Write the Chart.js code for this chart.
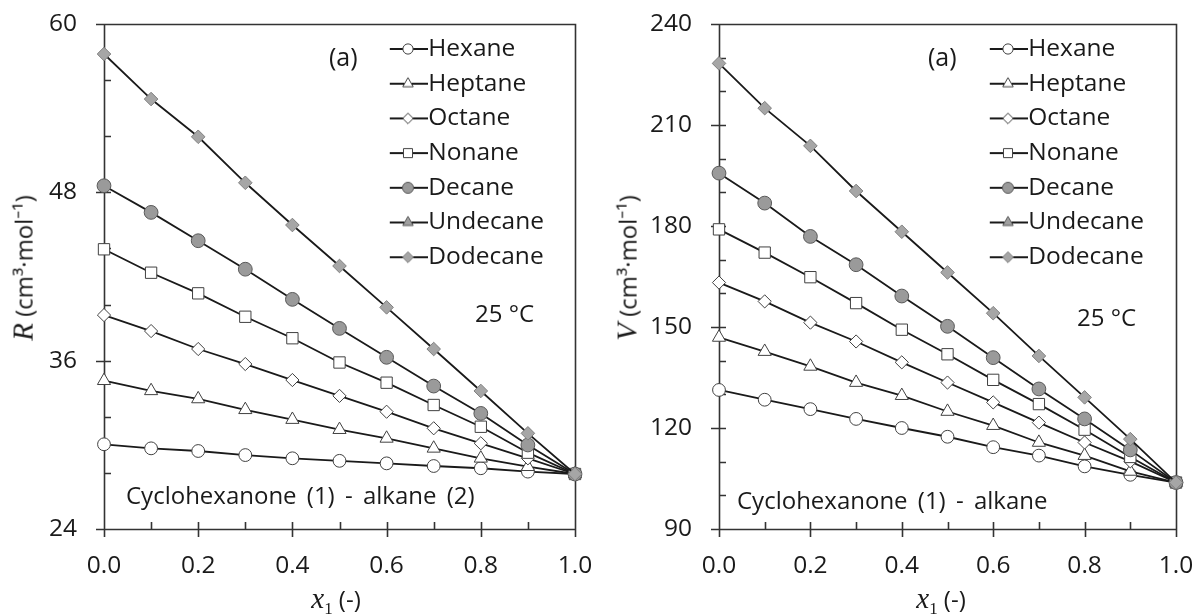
<!DOCTYPE html>
<html>
<head>
<meta charset="utf-8">
<script src="https://cdn.jsdelivr.net/npm/chart.js@4/dist/chart.umd.min.js"></script>
<style>
html,body{margin:0;padding:0;background:#fff;}
#wrap{position:relative;width:1196px;height:616px;overflow:hidden;font-family:"Open Sans",sans-serif;color:#1a1a1a;}
canvas{position:absolute;top:0;}
.t{position:absolute;white-space:pre;line-height:1.2;font-size:24px;transform:translateY(-50%);}
.c{position:absolute;white-space:pre;line-height:1.2;font-size:24px;transform:translate(-50%,-50%);}
.r{position:absolute;white-space:pre;line-height:1.2;font-size:24px;transform:translate(-50%,-50%) rotate(-90deg);}
.it{font-family:"Liberation Serif",serif;font-style:italic;font-size:29px;}
.sub{font-family:"Liberation Serif",serif;font-size:17px;position:relative;top:6px;}
.ws{word-spacing:4px;}
</style>
</head>
<body>
<div id="wrap">
<canvas id="c1" width="598" height="616" style="left:0"></canvas>
<canvas id="c2" width="598" height="616" style="left:598px"></canvas>

<div class="t" style="left:329px;top:56px;font-size:25px;">(a)</div>
<div class="t" style="left:475px;top:313px;">25 °C</div>
<div class="t ws" style="left:126px;top:495px;">Cyclohexanone (1) - alkane (2)</div>
<div class="c" style="left:336px;top:598px;"><span class="it">x</span><span class="sub">1</span> (-)</div>
<div class="r" style="left:23px;top:268px;"><span class="it">R</span> (cm³·mol⁻¹)</div>

<div class="t" style="left:928px;top:56px;font-size:25px;">(a)</div>
<div class="t" style="left:1077px;top:317px;">25 °C</div>
<div class="t ws" style="left:737px;top:500px;">Cyclohexanone (1) - alkane</div>
<div class="c" style="left:941px;top:598px;"><span class="it">x</span><span class="sub">1</span> (-)</div>
<div class="r" style="left:627px;top:268px;"><span class="it">V</span> (cm³·mol⁻¹)</div>
</div>

<script>
// ---------- data ----------
const x1 = [0.0, 0.1, 0.2, 0.3, 0.4, 0.5, 0.6, 0.7, 0.8, 0.9, 1.0];
const seriesNames = ['Hexane', 'Heptane', 'Octane', 'Nonane', 'Decane', 'Undecane', 'Dodecane'];

// Molar refraction R (cm3/mol)
const hexaneR   = [30.04, 29.75, 29.56, 29.27, 29.04, 28.86, 28.68, 28.49, 28.33, 28.09, 27.92];
const heptaneR  = [34.57, 33.85, 33.27, 32.50, 31.80, 31.08, 30.46, 29.75, 29.04, 28.44, 27.92];
const octaneR   = [39.25, 38.11, 36.83, 35.76, 34.62, 33.49, 32.36, 31.18, 30.11, 29.04, 27.92];
const nonaneR   = [43.94, 42.27, 40.80, 39.13, 37.60, 35.87, 34.43, 32.84, 31.29, 29.44, 27.92];
const decaneR   = [48.47, 46.57, 44.55, 42.52, 40.37, 38.30, 36.24, 34.19, 32.24, 29.99, 27.92];
const undecaneR = [];
const dodecaneR = [57.86, 54.65, 51.96, 48.68, 45.67, 42.75, 39.80, 36.83, 33.84, 30.82, 27.92];

// Molar volume V (cm3/mol)
const hexaneV   = [131.3, 128.4, 125.6, 122.7, 120.0, 117.4, 114.3, 111.8, 108.6, 106.1, 103.8];
const heptaneV  = [146.9, 142.7, 138.3, 133.5, 129.6, 124.9, 120.7, 115.7, 111.8, 107.1, 103.8];
const octaneV   = [163.2, 157.6, 151.3, 145.7, 139.5, 133.5, 127.6, 121.6, 115.7, 110.1, 103.8];
const nonaneV   = [179.0, 172.1, 164.8, 157.1, 149.2, 141.9, 134.3, 127.1, 119.5, 111.4, 103.8];
const decaneV   = [195.7, 186.8, 176.9, 168.5, 159.2, 150.2, 140.9, 131.6, 122.7, 113.5, 103.8];
const undecaneV = [];
const dodecaneV = [228.3, 215.0, 203.8, 190.4, 178.3, 166.2, 154.1, 141.4, 129.1, 116.7, 103.8];

const xTicks = [0.0, 0.2, 0.4, 0.6, 0.8, 1.0];
const yTicksR = [24, 36, 48, 60];
const yTicksV = [90, 120, 150, 180, 210, 240];

// ---------- styles ----------
const FONT = '"Open Sans", sans-serif';
const TXT = '#1a1a1a';
const LINE = '#1a1a1a';
const marks = [
  {ps: 'circle',   r: 6.4, bg: '#ffffff', bd: '#404040'},
  {ps: 'triangle', r: 7.6, bg: '#ffffff', bd: '#404040'},
  {ps: 'rectRot',  r: 6.6, bg: '#ffffff', bd: '#404040'},
  {ps: 'rect',     r: 8.0, bg: '#ffffff', bd: '#404040'},
  {ps: 'circle',   r: 6.9, bg: '#9a9a9a', bd: '#595959'},
  {ps: 'triangle', r: 7.6, bg: '#a0a0a0', bd: '#595959'},
  {ps: 'rectRot',  r: 6.8, bg: '#a6a6a6', bd: '#7f7f7f'}
];

function drawMarker(g, ps, x, y, r) {
  g.beginPath();
  if (ps === 'circle') {
    g.arc(x, y, r, 0, Math.PI * 2);
  } else if (ps === 'triangle') {
    for (let k = 0; k < 3; k++) {
      const a = k * 2 * Math.PI / 3;
      const px = x + Math.sin(a) * r, py = y - Math.cos(a) * r;
      if (k === 0) g.moveTo(px, py); else g.lineTo(px, py);
    }
  } else if (ps === 'rectRot') {
    g.moveTo(x, y - r); g.lineTo(x + r, y); g.lineTo(x, y + r); g.lineTo(x - r, y);
  } else {
    const s = r * Math.SQRT1_2;
    g.rect(x - s, y - s, 2 * s, 2 * s);
  }
  g.closePath();
  g.fill();
  g.stroke();
}

function legendImage(m) {
  const c = document.createElement('canvas');
  c.width = 40; c.height = 20;
  const g = c.getContext('2d');
  g.strokeStyle = LINE; g.lineWidth = 1.8;
  g.beginPath(); g.moveTo(0, 10); g.lineTo(40, 10); g.stroke();
  g.fillStyle = m.bg; g.strokeStyle = m.bd; g.lineWidth = 1;
  drawMarker(g, m.ps, 20, 10, m.r * 0.8);
  return c;
}

function drawFrame(chart, o) {
  const ctx = chart.ctx, a = chart.chartArea;
  const xs = chart.scales.x, ys = chart.scales.y;
  ctx.save();
  ctx.strokeStyle = '#333333';
  ctx.lineWidth = 1.6;
  ctx.setLineDash([]);
  ctx.beginPath();
  ctx.rect(Math.round(a.left) + 0.5, Math.round(a.top) + 0.5,
           Math.round(a.right - a.left), Math.round(a.bottom - a.top));
  const nx = Math.round((xs.max - xs.min) / o.xMinor);
  const xr = Math.round(o.xMajor / o.xMinor);
  for (let k = 0; k <= nx; k++) {
    const v = xs.min + k * o.xMinor;
    const px = Math.round(xs.getPixelForValue(v)) + 0.5;
    const major = k % xr === 0;
    ctx.moveTo(px, a.bottom - 7);
    ctx.lineTo(px, major ? a.bottom + 8 : a.bottom);
  }
  const ny = Math.round((ys.max - ys.min) / o.yMinor);
  const yr = Math.round(o.yMajor / o.yMinor);
  for (let k = 0; k <= ny; k++) {
    const v = ys.min + k * o.yMinor;
    const py = Math.round(ys.getPixelForValue(v)) + 0.5;
    const major = k % yr === 0;
    ctx.moveTo(major ? a.left - 8 : a.left, py);
    ctx.lineTo(a.left + 7, py);
  }
  ctx.stroke();
  ctx.restore();
}

function makePlugin(cfg) {
  return {
    id: 'frameTicks',
    beforeDatasetsDraw(chart) { drawFrame(chart, cfg); },
    afterLayout(chart) {
      const lg = chart.legend;
      if (!lg) return;
      const w = lg.width, h = lg.height;
      lg.left = cfg.lx; lg.top = cfg.ly; lg.right = cfg.lx + w; lg.bottom = cfg.ly + h;
    }
  };
}

function makeChart(id, seriesArr, yMin, yMax, yStep, yMinor, plotLeft, plotRight, legendX) {
  const datasets = seriesArr.map((vals, i) => ({
    label: seriesNames[i],
    data: vals.map((v, j) => ({x: x1[j], y: v})),
    borderColor: LINE,
    borderWidth: 1.8,
    pointStyle: marks[i].ps,
    pointRadius: marks[i].r,
    pointBackgroundColor: marks[i].bg,
    pointBorderColor: marks[i].bd,
    pointBorderWidth: 1,
    tension: 0,
    fill: false,
    clip: false,
    order: seriesArr.length - 1 - i
  }));
  const imgs = marks.map(legendImage);
  const LF = 24.5;
  const plugin = makePlugin({xMinor: 0.1, xMajor: 0.2, yMinor: yMinor, yMajor: yStep,
                             lx: legendX, ly: 49 - LF / 2 - (34.7 - LF)});
  return new Chart(document.getElementById(id), {
    type: 'line',
    data: {datasets},
    plugins: [plugin],
    options: {
      responsive: false,
      animation: false,
      devicePixelRatio: 1,
      events: [],
      layout: {padding: {left: 0, top: 24, right: 598 - plotRight, bottom: 0}},
      scales: {
        x: {
          type: 'linear', min: 0, max: 1,
          afterBuildTicks: s => { s.ticks = xTicks.map(v => ({value: v})); },
          ticks: {padding: 22, color: TXT, font: {family: FONT, size: 24.5},
                  callback: v => Number(v).toFixed(1), maxRotation: 0, autoSkip: false},
          grid: {display: false, drawTicks: false},
          border: {display: false},
          afterFit: s => { s.height = 616 - 529; s.paddingLeft = 0; s.paddingRight = 0; }
        },
        y: {
          type: 'linear', min: yMin, max: yMax,
          ticks: {stepSize: yStep, padding: 27, color: TXT, font: {family: FONT, size: 24.5}},
          grid: {display: false, drawTicks: false},
          border: {display: false},
          afterFit: s => { s.width = plotLeft; s.paddingTop = 0; s.paddingBottom = 0; }
        }
      },
      plugins: {
        tooltip: {enabled: false},
        legend: {
          position: 'chartArea',
          align: 'start',
          labels: {
            usePointStyle: true,
            pointStyleWidth: 16,
            padding: 34.7 - LF,
            color: TXT,
            font: {family: FONT, size: LF},
            generateLabels: chart => chart.data.datasets.map((ds, i) => ({
              text: ds.label, pointStyle: imgs[i], fillStyle: marks[i].bg,
              strokeStyle: marks[i].bd, lineWidth: 0, hidden: false, datasetIndex: i, fontColor: TXT
            }))
          }
        }
      }
    }
  });
}

function init() {
  makeChart('c1', [hexaneR, heptaneR, octaneR, nonaneR, decaneR, undecaneR, dodecaneR],
            yTicksR[0], yTicksR[yTicksR.length - 1], 12, 4, 104, 575, 408 - 8 - (34.7 - 24.5));
  makeChart('c2', [hexaneV, heptaneV, octaneV, nonaneV, decaneV, undecaneV, dodecaneV],
            yTicksV[0], yTicksV[yTicksV.length - 1], 30, 10, 121, 578, 410 - 8 - (34.7 - 24.5));
}

if (document.fonts && document.fonts.load) {
  Promise.all([document.fonts.load('24px "Open Sans"'), document.fonts.load('italic 29px "Liberation Serif"')])
    .then(init, init);
} else { init(); }
</script>
</body>
</html>
